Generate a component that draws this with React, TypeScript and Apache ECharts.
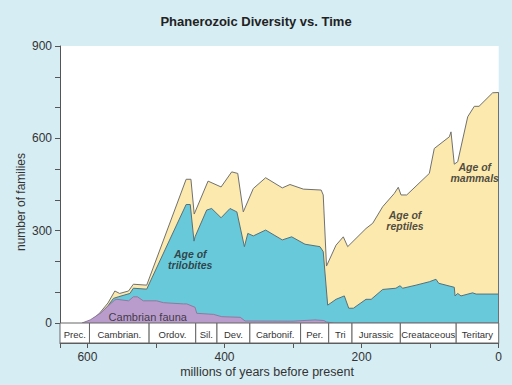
import React, { useEffect, useRef } from 'react';
import * as echarts from 'echarts';

// millions of years before present / cumulative number of families (top of all faunas)
const totalAge = [606, 595, 583, 570, 560, 553, 540, 533, 513.5, 456, 449, 444.2, 424, 405, 389.5, 380.7, 372.6, 358, 340, 315.7, 304.5, 285, 259, 256, 251.2, 237.3, 226.7, 220.3, 193.6, 183.8, 169.2, 152.3, 146.5, 142.5, 134.2, 101.2, 94, 72, 69.6, 64.8, 59.8, 45.2, 35.6, 28.7, 8.8, 0];
const totalVal = [0, 8, 30, 65, 104, 96, 104, 126, 123, 467, 467, 354, 461, 442, 491, 486, 361, 437, 472, 439, 450, 435, 432, 416, 185, 253, 280, 248, 307, 324, 378, 421, 441, 416, 416, 486, 567, 605, 621, 516, 524, 670, 704, 704, 748, 749];

// top of the Paleozoic ("Age of trilobites") fauna, stacked on the Cambrian fauna
const paleoAge = [604, 595, 583, 570, 562, 555, 538, 533, 513.5, 456, 450, 444.5, 443, 426, 418.7, 405, 392, 382, 371, 366, 358, 340, 315.7, 302, 282.6, 260.7, 256, 249.5, 237.3, 225.2, 218.8, 212, 193.6, 186, 169.2, 150, 144, 140, 120.6, 101.2, 91.5, 87.5, 64.8, 63.7, 59.8, 55, 38, 33, 0];
const paleoVal = [0, 7, 26, 56, 80, 85, 96, 113, 110, 385, 385, 266, 280, 367, 372, 342, 372, 361, 248, 291, 283, 302, 270, 280, 256, 248, 232, 58, 77, 88, 48, 48, 77, 77, 109, 113, 121, 113, 123, 134, 142, 129, 116, 88, 96, 88, 98, 94, 94];

// Cambrian fauna
const cambAge = [608, 596, 581, 570, 560, 557, 540, 533, 527, 518.5, 499, 489, 460, 455, 443, 440.5, 416, 404, 377, 370, 300, 268, 255, 251, 240, 0];
const cambVal = [0, 10, 32, 55, 75, 77, 72, 85, 85, 72, 72, 66, 62, 62, 51, 31.5, 28, 20.5, 18.5, 6.5, 6, 10, 8, 3, 0, 0];

// geological periods (boundaries in Myr)
const periodBounds = [640, 597, 510, 442, 411, 363, 289, 248, 214, 143.5, 62, 0];
const periodNames = ['Prec.', 'Cambrian.', 'Ordov.', 'Sil.', 'Dev.', 'Carbonif.', 'Per.', 'Tri', 'Jurassic', 'Creataceous', 'Teritary'];

// annotations [age, families, text]
const noteAge = [450, 136.7, 35, 512];
const noteVal = [205, 334, 488.6, 20.5];
const noteText = ['Age of\ntrilobites', 'Age of\nreptiles', 'Age of\nmammals', 'Cambrian fauna'];

const FONT = '"Liberation Sans", Arial, Helvetica, sans-serif';

export default function App() {
  const ref = useRef<HTMLDivElement>(null);
  useEffect(() => {
    const chart = echarts.init(ref.current as HTMLDivElement, null, { renderer: 'svg' });
    const zip = (a: number[], b: number[]) => a.map((x, i) => [x, b[i]]);
    const periodData = periodNames.map((n, i) => ({ value: [periodBounds[i], periodBounds[i + 1]], name: n }));
    const notes = noteText.map((t, i) => ({
      value: [noteAge[i], noteVal[i]],
      name: t,
      label: i === 3
        ? { fontStyle: 'normal', fontWeight: 'normal', fontSize: 11 }
        : { fontStyle: 'italic', fontWeight: 'bold', fontSize: 10.5 },
    }));
    const txt = (extra: any) => ({
      align: 'center', textAlign: 'center', verticalAlign: 'middle', textVerticalAlign: 'middle',
      fontFamily: FONT, fill: '#333', ...extra,
    });
    const lastI = totalAge.length - 1;
    chart.setOption({
      animation: false,
      backgroundColor: '#d6edf4',
      title: {
        text: 'Phanerozoic Diversity vs. Time',
        left: 'center',
        top: 10,
        textStyle: { fontSize: 13, fontWeight: 'bold', color: '#222', fontFamily: FONT },
      },
      grid: { left: 60, right: 13.3, top: 46, bottom: 62, show: true, backgroundColor: '#ffffff', borderWidth: 0 },
      xAxis: {
        type: 'value', inverse: true, min: 0, max: 640, interval: 100, offset: 20,
        axisLine: { onZero: false, lineStyle: { color: '#555', width: 1 } },
        axisTick: { length: 5, lineStyle: { color: '#555' } },
        axisLabel: {
          margin: 8, fontSize: 12, color: '#333', fontFamily: FONT,
          formatter: (v: number) => (v % 200 === 0 ? String(v) : ''),
        },
        splitLine: { show: false },
      },
      yAxis: {
        type: 'value', min: 0, max: 900, interval: 100, position: 'left',
        axisLine: { show: true, onZero: false, lineStyle: { color: '#555', width: 1 } },
        axisTick: { show: true, length: 5, lineStyle: { color: '#555' } },
        axisLabel: {
          margin: 8, fontSize: 12, color: '#333', fontFamily: FONT,
          formatter: (v: number) => (v % 300 === 0 ? String(v) : ''),
        },
        splitLine: { show: false },
      },
      graphic: [
        { type: 'text', x: 21, y: 202, rotation: Math.PI / 2, style: txt({ text: 'number of families', fontSize: 12 }) },
        { type: 'text', x: 267, y: 372, style: txt({ text: 'millions of years before present', fontSize: 12.5 }) },
      ],
      series: [
        {
          type: 'line', data: zip(totalAge, totalVal), symbol: 'none', silent: true,
          lineStyle: { color: '#707070', width: 1 },
          areaStyle: { color: '#fce9ae', opacity: 1 }, z: 2,
          markLine: {
            silent: true, symbol: 'none', label: { show: false },
            lineStyle: { color: '#707070', width: 1, type: 'solid' },
            data: [[{ coord: [totalAge[lastI], 0] }, { coord: [totalAge[lastI], totalVal[lastI]] }]],
          },
        },
        {
          type: 'line', data: zip(paleoAge, paleoVal), symbol: 'none', silent: true,
          lineStyle: { color: '#55707a', width: 1 },
          areaStyle: { color: '#68c9db', opacity: 1 }, z: 3,
        },
        {
          type: 'line', data: zip(cambAge, cambVal), symbol: 'none', silent: true,
          lineStyle: { color: '#8d7a9c', width: 1 },
          areaStyle: { color: '#b99ccc', opacity: 1 }, z: 4,
        },
        {
          type: 'custom', data: periodData, encode: { x: [0, 1] }, z: 5, silent: true,
          renderItem: (params: any, api: any) => {
            const s = api.coord([api.value(0), 0]);
            const e = api.coord([api.value(1), 0]);
            const x0 = Math.min(s[0], e[0]);
            const w = Math.abs(e[0] - s[0]);
            return {
              type: 'group',
              children: [
                { type: 'rect', shape: { x: x0, y: s[1], width: w, height: 20 }, style: { fill: '#ffffff', stroke: '#666', lineWidth: 1 } },
                { type: 'text', x: x0 + w / 2, y: s[1] + 11, style: txt({ text: periodNames[params.dataIndex], fontSize: 9.5 }) },
              ],
            };
          },
        },
        {
          type: 'scatter', data: notes, symbolSize: 1, silent: true, z: 6,
          itemStyle: { color: 'rgba(0,0,0,0)' },
          label: {
            show: true, position: 'inside', formatter: '{b}', color: '#222', fontFamily: FONT,
            lineHeight: 11, align: 'center',
          },
        },
      ],
    });
    return () => chart.dispose();
  }, []);
  return <div ref={ref} style={{ position: 'fixed', left: 0, top: 0, width: 512, height: 385 }} />;
}
